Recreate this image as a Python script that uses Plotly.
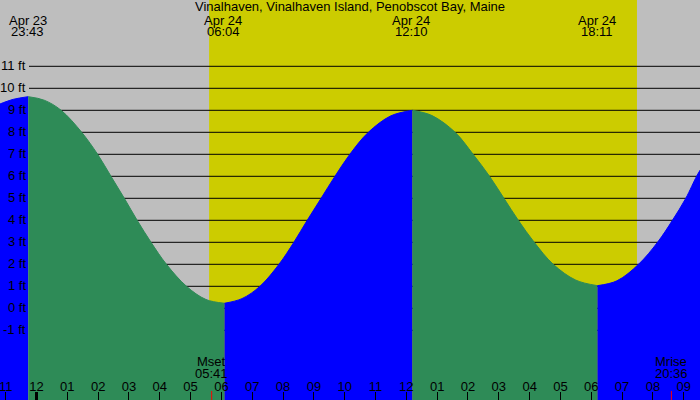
import plotly.graph_objects as go

# ---------------- data ----------------
title_text = "Vinalhaven, Vinalhaven Island, Penobscot Bay, Maine"

# tide extremes (labels at top)
event_times = ["2024-04-23 23:43", "2024-04-24 06:04", "2024-04-24 12:10", "2024-04-24 18:11"]
event_dates = ["Apr 23", "Apr 24", "Apr 24", "Apr 24"]
event_clock = ["23:43", "06:04", "12:10", "18:11"]

# tide curve readings, split in rising (blue) / falling (green) stretches
seg1_times = ["2024-04-23 22:48", "2024-04-23 23:15", "2024-04-23 23:44"]
seg1_ft = [9.28, 9.50, 9.62]
seg2_times = ["2024-04-23 23:44", "2024-04-24 00:15", "2024-04-24 00:48", "2024-04-24 01:28",
              "2024-04-24 01:59", "2024-04-24 02:25", "2024-04-24 02:51", "2024-04-24 03:16",
              "2024-04-24 03:43", "2024-04-24 04:13", "2024-04-24 04:52", "2024-04-24 05:30",
              "2024-04-24 06:06"]
seg2_ft = [9.62, 9.46, 9.0, 8.0, 7.0, 6.0, 5.0, 4.0, 3.0, 2.0, 1.0, 0.40, 0.23]
seg3_times = ["2024-04-24 06:06", "2024-04-24 06:40", "2024-04-24 07:15", "2024-04-24 07:52",
              "2024-04-24 08:21", "2024-04-24 08:47", "2024-04-24 09:14", "2024-04-24 09:41",
              "2024-04-24 10:10", "2024-04-24 10:46", "2024-04-24 11:30", "2024-04-24 12:12"]
seg3_ft = [0.23, 0.44, 1.0, 2.0, 3.0, 4.0, 5.0, 6.0, 7.0, 8.0, 8.75, 9.0]
seg4_times = ["2024-04-24 12:12", "2024-04-24 12:50", "2024-04-24 13:35", "2024-04-24 14:10",
              "2024-04-24 14:42", "2024-04-24 15:10", "2024-04-24 15:38", "2024-04-24 16:09",
              "2024-04-24 16:46", "2024-04-24 17:30", "2024-04-24 18:12"]
seg4_ft = [9.0, 8.76, 8.0, 7.0, 6.0, 5.0, 4.0, 3.0, 2.0, 1.28, 1.03]
seg5_times = ["2024-04-24 18:12", "2024-04-24 18:50", "2024-04-24 19:32", "2024-04-24 20:09",
              "2024-04-24 20:38", "2024-04-24 21:04", "2024-04-24 21:25", "2024-04-24 21:33"]
seg5_ft = [1.03, 1.25, 2.0, 3.0, 4.0, 5.0, 6.0, 6.32]

segments = [(seg1_times, seg1_ft, "rise"), (seg2_times, seg2_ft, "fall"),
            (seg3_times, seg3_ft, "rise"), (seg4_times, seg4_ft, "fall"),
            (seg5_times, seg5_ft, "rise")]

sunrise = "2024-04-24 05:36"
sunset = "2024-04-24 19:29"

moon_times = ["2024-04-24 05:41", "2024-04-24 20:36"]
moon_names = ["Mset", "Mrise"]
moon_clock = ["05:41", "20:36"]

midnight = "2024-04-24 00:00"
grid_levels = [-1, 0, 1, 2, 3, 4, 5, 6, 7, 8, 9, 10, 11]
grid_labels = [f"{v} ft" for v in grid_levels]

x_range = ["2024-04-23 22:48:56", "2024-04-24 21:31:41"]
y_range = [-4.168, 14.014]

# ---------------- styling ----------------
W, H = 700, 400
FONT = "Liberation Sans"
GRAY = "#BEBEBE"
YELLOW = "#CCCC00"
GREEN = "#2E8B57"
BLUE = "#0000FF"
colors = {"rise": BLUE, "fall": GREEN}


def py(px):
    return 1 - px / H


fig = go.Figure()
base = y_range[0] - 1
for t, v, kind in segments:
    fig.add_trace(go.Scatter(x=[t[0], t[-1]], y=[base, base], mode="lines",
                             line=dict(width=0, color=colors[kind]),
                             hoverinfo="skip", showlegend=False))
    fig.add_trace(go.Scatter(x=t, y=v, mode="lines", fill="tonexty",
                             fillcolor=colors[kind],
                             line=dict(width=1, color=colors[kind], shape="spline"),
                             hoverinfo="skip", showlegend=False))

shapes = [dict(type="rect", xref="x", yref="paper", x0=sunrise, x1=sunset, y0=0, y1=1,
               fillcolor=YELLOW, line=dict(width=0), layer="below")]
for v in grid_levels:
    shapes.append(dict(type="line", xref="paper", yref="y", x0=29 / W, x1=1, y0=v, y1=v,
                       line=dict(color="black", width=1), layer="below"))
shapes.append(dict(type="line", xref="x", yref="paper", x0=midnight, x1=midnight,
                   y0=0, y1=8 / H, line=dict(color="black", width=3)))
for t in moon_times:
    shapes.append(dict(type="line", xref="x", yref="paper", x0=t, x1=t,
                       y0=0, y1=9 / H, line=dict(color="red", width=1)))

ann = []
fnt = dict(family=FONT, size=13, color="black")
ann.append(dict(text=title_text, xref="paper", yref="paper", x=0.5, y=py(7),
                xanchor="center", yanchor="middle", showarrow=False, font=fnt))
for t, d, c in zip(event_times, event_dates, event_clock):
    ann.append(dict(text=d, xref="x", yref="paper", x=t, y=py(20), xanchor="center",
                    yanchor="middle", showarrow=False, font=fnt))
    ann.append(dict(text=c, xref="x", yref="paper", x=t, y=py(32), xanchor="center",
                    yanchor="middle", showarrow=False, font=fnt))
for t, n, c in zip(moon_times, moon_names, moon_clock):
    ann.append(dict(text=n, xref="x", yref="paper", x=t, y=py(361.5), xanchor="center",
                    yanchor="middle", showarrow=False, font=fnt))
    ann.append(dict(text=c, xref="x", yref="paper", x=t, y=py(373.5), xanchor="center",
                    yanchor="middle", showarrow=False, font=fnt))
for v, lab in zip(grid_levels, grid_labels):
    ann.append(dict(text=lab, xref="paper", yref="y", x=27.5 / W, y=v + 1 / 22,
                    xanchor="right", yanchor="middle", showarrow=False, font=fnt))

fig.update_layout(
    width=W, height=H, margin=dict(l=0, r=0, t=0, b=0),
    paper_bgcolor=GRAY, plot_bgcolor=GRAY,
    shapes=shapes, annotations=ann, showlegend=False,
    xaxis=dict(type="date", range=x_range, showgrid=False, zeroline=False, showline=False,
               dtick=3600000, tick0="2024-04-24 00:00", tickformat="%I",
               ticks="inside", ticklen=8, tickwidth=1, tickcolor="black",
               ticklabelposition="inside", ticklabeloverflow="allow",
               ticklabelstandoff=-2,
               tickfont=fnt, fixedrange=True),
    yaxis=dict(range=y_range, visible=False, fixedrange=True),
)

fig.write_html("out.html", config={"displayModeBar": False},
               post_script="document.body.style.margin='0';document.body.style.overflow='hidden';")
